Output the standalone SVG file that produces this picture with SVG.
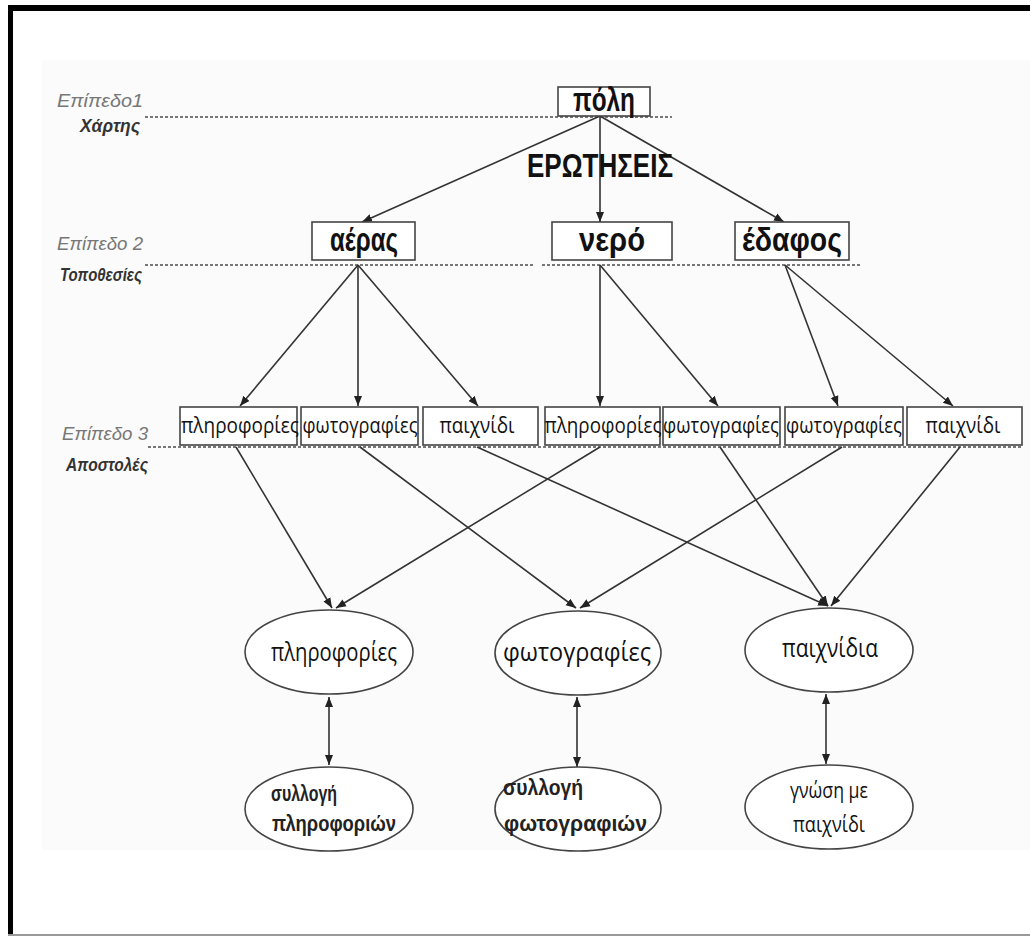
<svg xmlns="http://www.w3.org/2000/svg" width="1030" height="936" viewBox="0 0 1030 936">
<style>
.lvl{font-family:"Liberation Sans",Arial,sans-serif;font-style:italic;font-size:19px;fill:#777;text-anchor:end}
.lvlb{font-family:"Liberation Sans",Arial,sans-serif;font-style:italic;font-weight:bold;font-size:19px;fill:#333;text-anchor:end}
.dot{stroke:#777;stroke-width:2;stroke-dasharray:3 2;fill:none}
.box{fill:#fff;stroke:#444;stroke-width:1.6}
.ell{fill:#fff;stroke:#444;stroke-width:1.6}
.big{font-family:"Liberation Sans",Arial,sans-serif;font-weight:bold;font-size:33px;fill:#111;text-anchor:middle}
.mid{font-family:"Open Sans","Liberation Sans",sans-serif;font-size:21px;fill:#111;text-anchor:middle}
.ellt{font-family:"Open Sans","Liberation Sans",sans-serif;font-size:25px;fill:#111;text-anchor:middle}
.small{font-family:"Liberation Sans",Arial,sans-serif;font-weight:bold;font-size:22px;fill:#222;text-anchor:start}
.smallr{font-family:"Open Sans","Liberation Sans",sans-serif;font-size:21px;fill:#111;text-anchor:middle}
.con{stroke:#333;stroke-width:1.6;fill:none}
</style>
<defs>
<marker id="ah" viewBox="0 0 10 10" refX="10" refY="5" markerWidth="10" markerHeight="10" orient="auto-start-reverse" markerUnits="userSpaceOnUse">
<path d="M0,1 L10,5 L0,9 z" fill="#222"/>
</marker>
</defs>
<rect x="0" y="0" width="1030" height="936" fill="#fff"/>
<rect x="42" y="60" width="988" height="790" fill="#fbfbfb"/>
<g id="frame">
<rect x="8" y="5" width="1022" height="6" fill="#000"/>
<rect x="8" y="5" width="5" height="931" fill="#000"/>
<rect x="8" y="934" width="1022" height="2" fill="#999"/>
</g>
<g id="levels">
<text class="lvl" x="143" y="107" textLength="86" lengthAdjust="spacingAndGlyphs">Επίπεδο1</text>
<text class="lvlb" x="140" y="132" textLength="60" lengthAdjust="spacingAndGlyphs">Χάρτης</text>
<line class="dot" x1="145" y1="117" x2="672" y2="117"/>
<text class="lvl" x="143" y="250" textLength="86" lengthAdjust="spacingAndGlyphs">Επίπεδο 2</text>
<text class="lvlb" x="142" y="281" textLength="82" lengthAdjust="spacingAndGlyphs">Τοποθεσίες</text>
<line class="dot" x1="145" y1="265" x2="533" y2="265"/>
<line class="dot" x1="542" y1="265" x2="862" y2="265"/>
<text class="lvl" x="148" y="440" textLength="86" lengthAdjust="spacingAndGlyphs">Επίπεδο 3</text>
<text class="lvlb" x="148" y="471" textLength="82" lengthAdjust="spacingAndGlyphs">Αποστολές</text>
<line class="dot" x1="148" y1="447" x2="1022" y2="447"/>
</g>
<g id="connectors">
<line class="con" x1="600" y1="116" x2="362" y2="222" marker-end="url(#ah)"/>
<line class="con" x1="600" y1="116" x2="600" y2="222" marker-end="url(#ah)"/>
<line class="con" x1="600" y1="116" x2="784" y2="222" marker-end="url(#ah)"/>
<line class="con" x1="358" y1="265" x2="240" y2="406" marker-end="url(#ah)"/>
<line class="con" x1="358" y1="265" x2="358" y2="406" marker-end="url(#ah)"/>
<line class="con" x1="358" y1="265" x2="478" y2="406" marker-end="url(#ah)"/>
<line class="con" x1="600" y1="265" x2="600" y2="406" marker-end="url(#ah)"/>
<line class="con" x1="600" y1="265" x2="718" y2="406" marker-end="url(#ah)"/>
<line class="con" x1="785" y1="265" x2="838" y2="406" marker-end="url(#ah)"/>
<line class="con" x1="785" y1="265" x2="953" y2="406" marker-end="url(#ah)"/>
<line class="con" x1="236" y1="447" x2="332" y2="608" marker-end="url(#ah)"/>
<line class="con" x1="360" y1="447" x2="576" y2="608" marker-end="url(#ah)"/>
<line class="con" x1="477" y1="447" x2="828" y2="606" marker-end="url(#ah)"/>
<line class="con" x1="600" y1="447" x2="336" y2="608" marker-end="url(#ah)"/>
<line class="con" x1="720" y1="447" x2="828" y2="606" marker-end="url(#ah)"/>
<line class="con" x1="842" y1="447" x2="580" y2="608" marker-end="url(#ah)"/>
<line class="con" x1="960" y1="447" x2="831" y2="606" marker-end="url(#ah)"/>
<line class="con" x1="329" y1="697" x2="329" y2="765" marker-start="url(#ah)" marker-end="url(#ah)"/>
<line class="con" x1="577" y1="697" x2="577" y2="767" marker-start="url(#ah)" marker-end="url(#ah)"/>
<line class="con" x1="826" y1="694" x2="826" y2="764" marker-start="url(#ah)" marker-end="url(#ah)"/>
</g>
<g id="erotiseis"><text class="big" x="600" y="177" font-size="38" textLength="146" lengthAdjust="spacingAndGlyphs">ΕΡΩΤΗΣΕΙΣ</text></g>
<g id="poli"><rect class="box" x="558" y="87" width="92" height="29"/><text class="big" x="604" y="111" textLength="62" lengthAdjust="spacingAndGlyphs">πόλη</text></g>
<g id="aeras"><rect class="box" x="312" y="222" width="103" height="38"/><text class="big" x="364" y="251" textLength="68" lengthAdjust="spacingAndGlyphs">αέρας</text></g>
<g id="nero"><rect class="box" x="552" y="222" width="120" height="38"/><text class="big" x="612" y="251" textLength="66" lengthAdjust="spacingAndGlyphs">νερό</text></g>
<g id="edafos"><rect class="box" x="735" y="222" width="114" height="38"/><text class="big" x="792" y="251" textLength="100" lengthAdjust="spacingAndGlyphs">έδαφος</text></g>
<g id="l3-1"><rect class="box" x="180" y="407" width="117" height="38"/><text class="mid" x="240" y="433" textLength="118" lengthAdjust="spacingAndGlyphs">πληροφορίες</text></g>
<g id="l3-2"><rect class="box" x="301" y="407" width="117" height="38"/><text class="mid" x="360" y="433" textLength="115" lengthAdjust="spacingAndGlyphs">φωτογραφίες</text></g>
<g id="l3-3"><rect class="box" x="423" y="407" width="115" height="38"/><text class="mid" x="477" y="433" textLength="75" lengthAdjust="spacingAndGlyphs">παιχνίδι</text></g>
<g id="l3-4"><rect class="box" x="545" y="407" width="115" height="38"/><text class="mid" x="603" y="433" textLength="117" lengthAdjust="spacingAndGlyphs">πληροφορίες</text></g>
<g id="l3-5"><rect class="box" x="663" y="407" width="117" height="38"/><text class="mid" x="721" y="433" textLength="116" lengthAdjust="spacingAndGlyphs">φωτογραφίες</text></g>
<g id="l3-6"><rect class="box" x="785" y="407" width="118" height="38"/><text class="mid" x="844" y="433" textLength="116" lengthAdjust="spacingAndGlyphs">φωτογραφίες</text></g>
<g id="l3-7"><rect class="box" x="907" y="407" width="115" height="38"/><text class="mid" x="963" y="433" textLength="75" lengthAdjust="spacingAndGlyphs">παιχνίδι</text></g>
<g id="e-plir"><ellipse class="ell" cx="329" cy="652" rx="84" ry="42"/><text class="ellt" x="334" y="661" textLength="126" lengthAdjust="spacingAndGlyphs">πληροφορίες</text></g>
<g id="e-foto"><ellipse class="ell" cx="578" cy="653" rx="83" ry="42"/><text class="ellt" x="577" y="661" textLength="148" lengthAdjust="spacingAndGlyphs">φωτογραφίες</text></g>
<g id="e-paix"><ellipse class="ell" cx="829" cy="650" rx="84" ry="42"/><text class="ellt" x="830" y="657" textLength="96" lengthAdjust="spacingAndGlyphs">παιχνίδια</text></g>
<g id="e-syl1"><ellipse class="ell" cx="329" cy="809" rx="84" ry="42"/><text class="small" x="271" y="801" textLength="66" lengthAdjust="spacingAndGlyphs">συλλογή</text><text class="small" x="272" y="831" textLength="124" lengthAdjust="spacingAndGlyphs">πληροφοριών</text></g>
<g id="e-syl2"><ellipse class="ell" cx="578" cy="809" rx="83" ry="42"/><text class="small" x="503" y="795" textLength="80" lengthAdjust="spacingAndGlyphs">συλλογή</text><text class="small" x="504" y="831" textLength="143" lengthAdjust="spacingAndGlyphs">φωτογραφιών</text></g>
<g id="e-gnosi"><ellipse class="ell" cx="829" cy="807" rx="84" ry="42"/><text class="smallr" x="829" y="798" textLength="78" lengthAdjust="spacingAndGlyphs">γνώση με</text><text class="smallr" x="829" y="832" textLength="72" lengthAdjust="spacingAndGlyphs">παιχνίδι</text></g>
</svg>
